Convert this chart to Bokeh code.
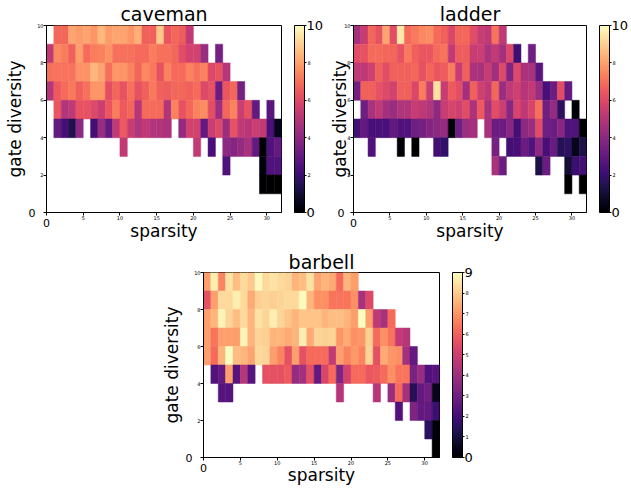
import numpy as np
from bokeh.plotting import figure
from bokeh.models import (LinearColorMapper, ColorBar, FixedTicker, LinearAxis, Spacer,
                          ColumnDataSource)
from bokeh.layouts import column, row
from bokeh.palettes import Magma256
from bokeh.transform import transform
from bokeh.embed import file_html
from bokeh.resources import INLINE

N = None

# ---------------- data (rows listed from top: gate diversity 9 -> 0) -------------
caveman_9 = [N, 6.8, 6.8, 8.1, 7.9, 8.1, 7.8, 8.5, 7.9, 8.1, 8.1, 7.8, 8.3, 6.7, 6.7, 8.8, 6.4, 6.8, 6.6, 5.3] + [N] * 12
caveman_8 = [5.3, 7.5, 7.3, 6.7, 8.0, 6.9, 7.3, 7.4, 7.7, 7.0, 7.0, 7.0, 6.9, 6.9, 7.3, 7.0, 7.0, 6.8, 6.1, 5.7, 5.7, 4.3, N, 3.4] + [N] * 8
caveman_7 = [7.0, 7.1, 7.1, 7.1, 7.7, 7.7, 8.5, 8.1, 7.0, 7.8, 7.8, 7.4, 6.8, 7.5, 7.2, 6.3, 7.4, 6.9, 6.9, 7.4, 7.0, 7.4, 6.0, 6.3, 5.0] + [N] * 7
caveman_6 = [5.0, 6.5, 6.9, 7.2, 6.7, 7.0, 7.8, 7.8, 6.2, 6.8, 6.3, 7.0, 6.3, 6.7, 7.2, 6.7, 6.6, 6.8, 6.8, 6.7, 6.9, 6.0, 6.3, 3.2, 6.4, 6.8, 3.4] + [N] * 5
caveman_5 = [N, 6.4, 4.9, 5.2, 6.3, 6.3, 6.0, 5.5, 6.4, 7.3, 6.5, 6.8, 5.0, 6.9, 6.9, 6.9, 4.9, 7.4, 6.3, 6.8, 7.4, 7.6, 6.2, 4.4, 6.8, 7.4, 5.5, 6.3, 3.0, N, 2.8, N]
caveman_4 = [N, 3.0, 2.2, 1.4, 4.0, N, 2.2, 4.3, 3.0, 5.3, 6.5, 5.4, 4.9, 5.3, 4.9, 4.9, 4.8, N, 4.2, 5.7, 5.7, 3.0, 5.5, 6.0, 4.4, 6.3, 5.3, 5.1, 5.5, 5.3, 2.4, 0.5]
caveman_3 = [N] * 10 + [5.3] + [N] * 9 + [5.3, N, 2.3, N, 4.0, 3.8, 4.2, 4.7, 3.0, 0.0, 2.5, 3.0]
caveman_2 = [N] * 24 + [2.5] + [N] * 4 + [0.2, 2.5, 2.5]
caveman_1 = [N] * 29 + [0.0, 0.0, 0.0]
caveman_0 = [N] * 32

ladder_9 = [4.6, 5.4, 6.8, 6.3, 8.1, 6.1, 9.5, 6.9, 7.2, 7.5, 7.6, 6.9, 6.7, 5.9, 6.8, 6.8, 6.1, 5.4, 5.2, 7.1, 5.2] + [N] * 11
ladder_8 = [6.1, 6.3, 6.9, 6.9, 6.8, 6.8, 6.3, 7.2, 6.7, 6.4, 6.4, 6.9, 7.1, 5.3, 6.6, 6.6, 5.4, 5.5, 4.8, 5.3, 4.6, 5.9, 2.1, N, 3.3] + [N] * 7
ladder_7 = [5.2, 5.2, 5.6, 6.7, 6.1, 6.7, 6.7, 6.7, 6.8, 6.3, 6.8, 6.4, 6.6, 7.3, 5.4, 6.7, 4.8, 4.7, 5.4, 4.5, 6.0, 3.7, 6.0, 4.8, 4.7, 2.8] + [N] * 6
ladder_6 = [3.4, 6.7, 6.7, 6.3, 6.0, 5.7, 6.7, 6.7, 5.9, 7.3, 5.5, 9.4, 5.4, 6.5, 6.2, 4.6, 6.7, 5.6, 5.2, 6.8, 4.3, 5.2, 5.6, 5.0, 5.3, 4.3, 2.3, 3.2, 6.1, 3.0, N, N]
ladder_5 = [N, 3.3, 4.7, 5.2, 4.6, 4.3, 4.9, 4.9, 5.4, 5.2, 4.9, 4.0, 5.4, 5.8, 5.6, 6.1, 4.8, 6.5, 4.7, 6.1, 5.5, 3.9, 5.8, 5.2, 5.8, 7.0, 3.3, 4.2, 1.7, N, 0.1, N]
ladder_4 = [2.2, 3.0, 2.3, 2.3, 2.3, 3.0, 2.5, 2.5, 3.3, 3.4, 3.8, 4.0, 4.2, 0.1, 3.3, 4.4, 4.6, N, 4.7, 3.2, 3.2, 3.9, 2.2, 4.0, 4.3, 6.1, 3.3, 3.2, 3.9, 2.5, 2.5, 0.1]
ladder_3 = [N, N, 2.5, N, N, N, 0.1, N, 0.0, N, N, 2.2, 1.8] + [N] * 6 + [3.5, N, 2.2, 2.3, 3.2, 2.6, 4.0, 2.3, 3.1, 1.5, 1.7, 0.5, 1.3]
ladder_2 = [N] * 19 + [4.7, 3.2] + [N] * 4 + [1.3, 3.2] + [N] * 2 + [1.0, 2.0, 2.2]
ladder_1 = [N] * 29 + [0.0, N, 0.0]
ladder_0 = [N] * 32

barbell_9 = [7.2, 8.7, 6.7, 8.5, 7.8, 8.3, 8.0, 8.9, 8.3, 8.5, 8.3, 8.2, 7.6, 7.8, 8.5, 7.3, 7.6, 7.4, 6.2, 7.6, 7.2] + [N] * 11
barbell_8 = [5.6, 7.2, 8.3, 8.3, 8.7, 8.3, 7.4, 8.1, 8.2, 8.1, 8.2, 8.3, 8.3, 8.9, 7.6, 6.9, 6.9, 6.4, 6.4, 6.4, 6.9, 4.2, 5.4] + [N] * 9
barbell_7 = [7.2, 7.6, 8.8, 8.2, 7.8, 8.3, 7.6, 8.5, 8.2, 8.7, 8.2, 7.9, 7.6, 7.9, 7.9, 7.9, 7.6, 7.8, 7.8, 7.6, 7.2, 9.0, 7.2, 4.7, 4.2, 6.2] + [N] * 6
barbell_6 = [7.2, 6.4, 7.2, 7.2, 7.2, 8.8, 7.6, 8.2, 8.1, 7.6, 7.6, 7.4, 7.6, 8.7, 7.4, 8.2, 8.1, 8.2, 7.0, 7.4, 6.9, 7.0, 8.1, 6.2, 6.9, 6.4, 4.8, 4.5] + [N] * 4
barbell_5 = [7.2, 6.2, 7.6, 9.0, 7.8, 7.6, 7.3, 8.3, 8.2, 7.2, 6.7, 5.6, 7.2, 5.6, 6.2, 6.2, 6.2, 4.8, 7.2, 6.7, 7.1, 6.7, 8.2, 5.6, 7.4, 7.0, 6.9, 4.1, 2.7] + [N] * 3
barbell_4 = [N, 2.3, 2.7, 7.2, 2.4, 4.5, 2.4, N, 5.6, 5.6, 5.6, 5.9, 3.8, 4.1, 5.6, 2.7, 5.3, 6.2, 3.3, 5.2, 6.2, 6.2, 5.8, 5.9, 6.2, 6.9, 6.4, 6.4, 3.2, 3.9, 2.3, 2.4]
barbell_3 = [N, N, 2.4, 2.4] + [N] * 14 + [4.5] + [N] * 4 + [4.5, N, 3.9, 6.2, 4.2, 1.4, 2.7, 3.0, 0.5]
barbell_2 = [N] * 26 + [2.3, N, 3.3, 2.7, 2.7, 1.8]
barbell_1 = [N] * 30 + [1.5, 0.2]
barbell_0 = [N] * 31 + [0.0]

caveman_rows = [caveman_9, caveman_8, caveman_7, caveman_6, caveman_5, caveman_4, caveman_3, caveman_2, caveman_1, caveman_0]
ladder_rows = [ladder_9, ladder_8, ladder_7, ladder_6, ladder_5, ladder_4, ladder_3, ladder_2, ladder_1, ladder_0]
barbell_rows = [barbell_9, barbell_8, barbell_7, barbell_6, barbell_5, barbell_4, barbell_3, barbell_2, barbell_1, barbell_0]

x_ticks = [0, 5, 10, 15, 20, 25, 30]
y_ticks = [0, 2, 4, 6, 8, 10]
caveman_cticks = [0, 2, 4, 6, 8, 10]
ladder_cticks = [0, 2, 4, 6, 8, 10]
barbell_cticks = [0, 1, 2, 3, 4, 5, 6, 7, 8, 9]

FONT = "DejaVu Sans"


def style_axis(ax, ticks, size, standoff):
    ax.ticker = FixedTicker(ticks=ticks)
    ax.major_label_text_font = FONT
    ax.major_label_text_font_size = size
    ax.major_label_text_color = "black"
    ax.major_label_standoff = standoff
    ax.minor_tick_line_color = None
    ax.minor_tick_out = 0
    ax.minor_tick_in = 0
    ax.axis_label_text_font = FONT
    ax.axis_label_text_font_size = "17px"
    ax.axis_label_text_font_style = "normal"
    ax.axis_label_text_color = "black"


def panel(title, rows, vmax, cticks, width, left, right, top, bottom, fh,
          y0_standoff, ylab_standoff, xlab_standoff, title_standoff):
    ncols = len(rows[0])
    nrows = len(rows)
    xs, ys, vs = [], [], []
    for r, vals in enumerate(rows):
        for c, v in enumerate(vals):
            if v is not None:
                xs.append(c)
                ys.append(nrows - 1 - r)
                vs.append(v)
    src = ColumnDataSource(dict(left=xs, right=[x + 1 for x in xs],
                                bottom=ys, top=[y + 1 for y in ys], v=vs))
    mapper = LinearColorMapper(palette=Magma256, low=0, high=vmax)

    p = figure(title=title, x_range=(0, ncols), y_range=(0, nrows),
               width=width, frame_height=fh,
               min_border_left=left, min_border_right=right,
               min_border_top=top, min_border_bottom=bottom,
               x_axis_location=None, y_axis_location=None,
               output_backend="svg", toolbar_location=None, tools="")
    p.quad(left="left", right="right", bottom="bottom", top="top", source=src,
           fill_color=transform("v", mapper), line_color=transform("v", mapper),
           line_width=0.5)

    p.title.text_font = FONT
    p.title.text_font_size = "19px"
    p.title.text_font_style = "normal"
    p.title.text_color = "black"
    p.title.align = "center"
    p.title.standoff = title_standoff

    p.grid.visible = False
    p.outline_line_color = "black"
    p.outline_line_alpha = 1.0

    # primary axes: small tick labels
    xa = LinearAxis()
    style_axis(xa, x_ticks, "5px", 0)
    xa.major_label_overrides = {0: ""}
    xa.major_tick_out = 3
    xa.major_tick_in = 0
    xa.axis_line_color = "black"
    p.add_layout(xa, "below")
    ya = LinearAxis()
    style_axis(ya, y_ticks, "5px", 0)
    ya.major_label_overrides = {0: ""}
    ya.major_tick_out = 3
    ya.major_tick_in = 0
    ya.axis_line_color = "black"
    p.add_layout(ya, "left")

    # secondary axes: the large "0" at the origin and the axis titles
    xb = LinearAxis(axis_label="sparsity")
    style_axis(xb, [0], "11px", -4)
    xb.axis_line_color = None
    xb.major_tick_line_color = None
    xb.major_tick_out = 0
    xb.major_tick_in = 0
    xb.axis_label_standoff = xlab_standoff
    p.add_layout(xb, "below")
    yb = LinearAxis(axis_label="gate diversity")
    style_axis(yb, [0], "11px", y0_standoff)
    yb.axis_line_color = None
    yb.major_tick_line_color = None
    yb.major_tick_out = 0
    yb.major_tick_in = 0
    yb.axis_label_standoff = ylab_standoff
    p.add_layout(yb, "left")

    # gap, colour bar with small labels, then the large end labels
    gap = ColorBar(color_mapper=mapper, ticker=FixedTicker(ticks=[]),
                   width=13, height=fh, padding=0, margin=0, scale_alpha=0,
                   bar_line_color=None, major_tick_line_color=None,
                   label_standoff=0, major_label_text_font_size="1px",
                   border_line_color=None, background_fill_color=None)
    p.add_layout(gap, "right")
    cb = ColorBar(color_mapper=mapper, ticker=FixedTicker(ticks=cticks),
                  major_label_overrides={0: "", vmax: ""},
                  major_label_text_font=FONT, major_label_text_font_size="5px",
                  major_label_text_color="black",
                  width=10, height=fh, padding=0, margin=0,
                  bar_line_color="black", major_tick_line_color="black",
                  major_tick_out=2, major_tick_in=0, label_standoff=1,
                  border_line_color=None, background_fill_color=None)
    p.add_layout(cb, "right")
    cb2 = ColorBar(color_mapper=mapper, ticker=FixedTicker(ticks=[0, vmax]),
                   major_label_text_font=FONT, major_label_text_font_size="13px",
                   major_label_text_color="black",
                   width=1, height=fh, padding=0, margin=0, scale_alpha=0,
                   bar_line_color=None, major_tick_line_color=None,
                   label_standoff=-8,
                   border_line_color=None, background_fill_color=None)
    p.add_layout(cb2, "right")
    return p


pA = panel("caveman", caveman_rows, 10, caveman_cticks, 326, 46, 44, 25, 36, 187, -1, 1, -9, 1)
pB = panel("ladder", ladder_rows, 10, ladder_cticks, 305, 26, 40, 25, 36, 187, -3, -15, -9, 1)
pC = panel("barbell", barbell_rows, 9, barbell_cticks, 326, 46, 44, 23, 31, 185, -1, 1, -10, 0)

layout = column(row(pA, pB), row(Spacer(width=157, height=10), pC))

with open("out.html", "w") as f:
    f.write(file_html(layout, INLINE))
